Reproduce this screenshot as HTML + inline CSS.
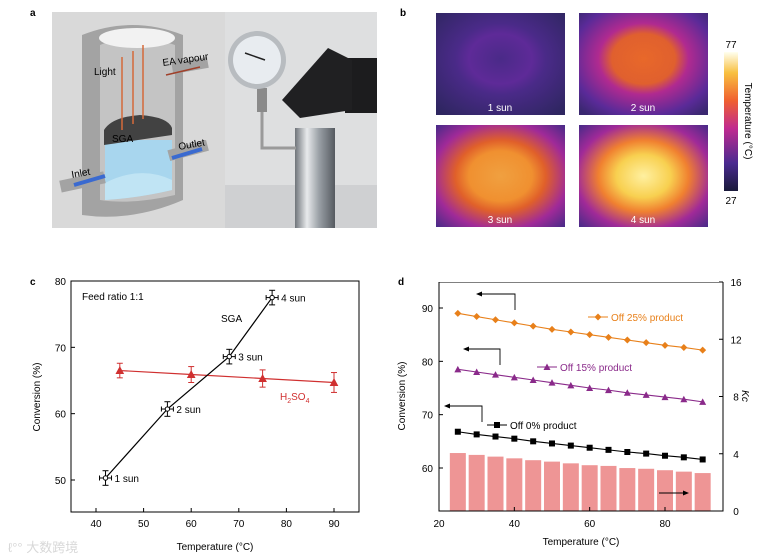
<!DOCTYPE html>
<html><head><meta charset="utf-8"><style>
html,body{margin:0;padding:0;background:#fff;}
svg{display:block;font-family:"Liberation Sans",Arial,sans-serif;}
</style></head><body>
<svg id="fig" width="769" height="556" viewBox="0 0 769 556">
<defs>
<linearGradient id="metal" x1="0" x2="1"><stop offset="0" stop-color="#6f747a"/><stop offset="0.3" stop-color="#e8eaec"/><stop offset="0.6" stop-color="#9aa0a6"/><stop offset="1" stop-color="#555a60"/></linearGradient>
<linearGradient id="cbar" x1="0" y1="1" x2="0" y2="0"><stop offset="0" stop-color="#1a1a3a"/><stop offset="0.2" stop-color="#4a2a90"/><stop offset="0.45" stop-color="#c02a90"/><stop offset="0.65" stop-color="#f06030"/><stop offset="0.85" stop-color="#f8c040"/><stop offset="1" stop-color="#fffff0"/></linearGradient>
<radialGradient id="t1" cx="0.5" cy="0.45" r="0.7"><stop offset="0" stop-color="#4a2a88"/><stop offset="0.35" stop-color="#5e2a98"/><stop offset="0.5" stop-color="#4a2a88"/><stop offset="1" stop-color="#2e2660"/></radialGradient>
<radialGradient id="t2" cx="0.5" cy="0.45" r="0.7"><stop offset="0" stop-color="#e8682a"/><stop offset="0.35" stop-color="#e0602e"/><stop offset="0.5" stop-color="#b02a90"/><stop offset="0.8" stop-color="#5a2a98"/><stop offset="1" stop-color="#3a2870"/></radialGradient>
<radialGradient id="t3" cx="0.5" cy="0.5" r="0.7"><stop offset="0" stop-color="#f0a040"/><stop offset="0.35" stop-color="#f09030"/><stop offset="0.5" stop-color="#e0602a"/><stop offset="0.75" stop-color="#a02a98"/><stop offset="1" stop-color="#4a2a88"/></radialGradient>
<radialGradient id="t4" cx="0.5" cy="0.5" r="0.7"><stop offset="0" stop-color="#fff0a0"/><stop offset="0.3" stop-color="#f8d050"/><stop offset="0.5" stop-color="#f08030"/><stop offset="0.75" stop-color="#a02a98"/><stop offset="1" stop-color="#4a2a88"/></radialGradient>
</defs>

<!-- Panel a -->
<text x="30" y="16" font-size="10" font-weight="bold">a</text>
<g>
<rect x="52" y="12" width="173" height="216" fill="#d9d9d9"/>
<path d="M82,35 Q132,15 183,35 L183,200 Q132,222 82,215 Z" fill="#a3a3a3"/>
<path d="M100,45 Q132,30 175,45 L175,195 Q132,205 100,200 Z" fill="#c4c4c4"/>
<ellipse cx="137" cy="38" rx="38" ry="10" fill="#f2f2f2"/>
<path d="M105,140 L172,140 L172,190 Q138,198 105,200 Z" fill="#a8d6ee"/>
<path d="M105,183 Q140,165 172,180 L172,190 Q138,198 105,200 Z" fill="#c0e4f4"/>
<path d="M104,130 Q112,117 140,115 Q168,117 172,128 L172,135 Q138,140 104,145 Z" fill="#424242"/>
<line x1="122" y1="57" x2="122" y2="130" stroke="#d46a3a" stroke-width="1.5"/>
<line x1="133" y1="51" x2="133" y2="124" stroke="#d46a3a" stroke-width="1.5"/>
<line x1="143" y1="45" x2="143" y2="119" stroke="#d46a3a" stroke-width="1.5"/>
<rect x="60" y="176" width="45" height="12" fill="#a3a3a3" transform="rotate(-12 82 182)"/>
<line x1="74" y1="185" x2="105" y2="176" stroke="#3a6ad0" stroke-width="4"/>
<rect x="168" y="145" width="40" height="11" fill="#a3a3a3" transform="rotate(-15 188 150)"/>
<line x1="172" y1="158" x2="202" y2="149" stroke="#3a6ad0" stroke-width="4"/>
<rect x="172" y="60" width="36" height="11" fill="#a3a3a3" transform="rotate(-10 190 65)"/>
<line x1="166" y1="75" x2="200" y2="67" stroke="#a0402a" stroke-width="1.5"/>
<text x="94" y="75" font-size="10">Light</text>
<text x="163" y="66" font-size="10" transform="rotate(-8 163 66)">EA vapour</text>
<text x="112" y="142" font-size="10">SGA</text>
<text x="179" y="150" font-size="10" transform="rotate(-10 179 150)">Outlet</text>
<text x="72" y="178" font-size="10" transform="rotate(-10 72 178)">Inlet</text>
</g>
<g>
<rect x="225" y="12" width="152" height="216" fill="#dedfe0"/>
<rect x="225" y="185" width="152" height="43" fill="#cfd0d2"/>
<rect x="345" y="58" width="32" height="55" fill="#1c1c1e"/>
<polygon points="282,100 328,48 352,60 352,110 300,118" fill="#202022"/>
<rect x="295" y="128" width="40" height="100" fill="url(#metal)"/>
<path d="M262,88 L262,148 L296,148" stroke="#9a9a9a" stroke-width="3" fill="none"/>
<rect x="257" y="88" width="10" height="24" fill="#8a8a8a"/>
<circle cx="257" cy="60" r="29" fill="#b8bcc0"/>
<circle cx="257" cy="60" r="24" fill="#e8ecf0"/>
<line x1="245" y1="53" x2="265" y2="60" stroke="#222" stroke-width="1.5"/>
</g>

<!-- Panel b -->
<text x="400" y="16" font-size="10" font-weight="bold">b</text>
<g><rect x="436" y="13" width="129" height="102" fill="url(#t1)"/><text x="500" y="111" font-size="10" fill="#fff" text-anchor="middle">1 sun</text></g>
<g><rect x="579" y="13" width="129" height="102" fill="url(#t2)"/><text x="643" y="111" font-size="10" fill="#fff" text-anchor="middle">2 sun</text></g>
<g><rect x="436" y="125" width="129" height="102" fill="url(#t3)"/><text x="500" y="223" font-size="10" fill="#fff" text-anchor="middle">3 sun</text></g>
<g><rect x="579" y="125" width="129" height="102" fill="url(#t4)"/><text x="643" y="223" font-size="10" fill="#fff" text-anchor="middle">4 sun</text></g>
<rect x="724" y="52" width="14" height="139" fill="url(#cbar)"/>
<text x="731" y="48" font-size="10" text-anchor="middle">77</text>
<text x="731" y="204" font-size="10" text-anchor="middle">27</text>
<text x="0" y="0" font-size="10" transform="translate(745,121) rotate(90)" text-anchor="middle">Temperature (°C)</text>

<!-- Panel c -->
<text x="30" y="285" font-size="10" font-weight="bold">c</text>
<g id="pc"></g>
<!-- Panel d -->
<text x="398" y="285" font-size="10" font-weight="bold">d</text>
<g id="pd"></g>
<text x="8" y="552" font-size="13" fill="#d8d8d8">ℓ°° 大数跨境</text>
</svg>
<script>
// Panel c data
const cTicksX = [40,50,60,70,80,90];
const cTicksY = [50,60,70,80];
const sgaT = [42,55,68,77];
const sgaConv = [50.3,60.7,68.6,77.5];
const sgaLabels = ["1 sun","2 sun","3 sun","4 sun"];
const acidT = [45,60,75,90];
const acidConv = [66.5,65.9,65.3,64.7];
const acidErr = [1.1,1.2,1.3,1.5];
// Panel d data
const dTemps = [25,30,35,40,45,50,55,60,65,70,75,80,85,90];
const dTicksX = [20,40,60,80];
const dTicksY = [60,70,80,90];
const dTicksY2 = [0,4,8,12,16];
const off25 = [89,88.4,87.8,87.2,86.6,86,85.5,85,84.5,84,83.5,83,82.6,82.1];
const off15 = [78.5,78,77.5,77,76.5,76,75.5,75,74.6,74.1,73.7,73.3,72.9,72.4];
const off0 = [66.8,66.3,65.9,65.5,65,64.6,64.2,63.8,63.4,63,62.7,62.3,62,61.6];
const kc = [4.05,3.92,3.8,3.68,3.55,3.45,3.33,3.2,3.15,3.0,2.95,2.85,2.75,2.65];

const NS="http://www.w3.org/2000/svg";
function mk(p,tag,attrs,txt){const e=document.createElementNS(NS,tag);for(const k in attrs)e.setAttribute(k,attrs[k]);if(txt!==undefined)e.textContent=txt;p.appendChild(e);return e;}

// ---- panel c
const pc=document.getElementById('pc');
const cx0=71,cx1=359,cy0=281,cy1=512;
const cX=v=>96+(v-40)*(334-96)/50;
const cY=v=>480-(v-50)*(480-281)/30;
let e;
e=mk(pc,'rect',{x:cx0,y:cy0,width:cx1-cx0,height:cy1-cy0,fill:'none',stroke:'#000','stroke-width':1});


cTicksX.forEach(t=>{mk(pc,'line',{x1:cX(t),x2:cX(t),y1:cy1,y2:cy1-4,stroke:'#000'});
 e=mk(pc,'text',{x:cX(t),y:cy1+15,'font-size':10,'text-anchor':'middle'},t);
 
 });
cTicksY.forEach(t=>{mk(pc,'line',{x1:cx0,x2:cx0+4,y1:cY(t),y2:cY(t),stroke:'#000'});
 e=mk(pc,'text',{x:cx0-5,y:cY(t)+4,'font-size':10,'text-anchor':'end'},t);
 
 });
e=mk(pc,'text',{x:215,y:550,'font-size':10,'text-anchor':'middle'},'Temperature (°C)');


e=mk(pc,'text',{x:0,y:0,'font-size':10,'text-anchor':'middle',transform:'translate(40,397) rotate(-90)'},'Conversion (%)');


e=mk(pc,'text',{x:82,y:300,'font-size':10},'Feed ratio 1:1');


e=mk(pc,'text',{x:221,y:322,'font-size':10},'SGA');


e=mk(pc,'text',{x:280,y:400,'font-size':10,fill:'#d03030'});
e.innerHTML='H<tspan font-size="7" dy="3">2</tspan><tspan dy="-3">SO</tspan><tspan font-size="7" dy="3">4</tspan>';


e=mk(pc,'polyline',{points:acidT.map((t,i)=>cX(t)+','+cY(acidConv[i])).join(' '),fill:'none',stroke:'#d03030','stroke-width':1.2});


acidT.forEach((t,i)=>{const x=cX(t),y=cY(acidConv[i]),ya=cY(acidConv[i]+acidErr[i]),yb=cY(acidConv[i]-acidErr[i]);
 const g=mk(pc,'g',{stroke:'#d03030',fill:'#d03030'});
 
 
 mk(g,'line',{x1:x,x2:x,y1:ya,y2:yb});mk(g,'line',{x1:x-3,x2:x+3,y1:ya,y2:ya});mk(g,'line',{x1:x-3,x2:x+3,y1:yb,y2:yb});
 mk(g,'polygon',{points:`${x},${y-3.5} ${x-3.5},${y+3} ${x+3.5},${y+3}`});});
e=mk(pc,'polyline',{points:sgaT.map((t,i)=>cX(t)+','+cY(sgaConv[i])).join(' '),fill:'none',stroke:'#000','stroke-width':1.2});


sgaT.forEach((t,i)=>{const x=cX(t),y=cY(sgaConv[i]),ya=cY(sgaConv[i]+1.1),yb=cY(sgaConv[i]-1.1);
 const g=mk(pc,'g',{stroke:'#000',fill:'#fff'});
 
 
 mk(g,'line',{x1:x,x2:x,y1:ya,y2:yb});mk(g,'line',{x1:x-3,x2:x+3,y1:ya,y2:ya});mk(g,'line',{x1:x-3,x2:x+3,y1:yb,y2:yb});
 mk(g,'line',{x1:x-6,x2:x+6,y1:y,y2:y});mk(g,'line',{x1:x-6,x2:x-6,y1:y-2.5,y2:y+2.5});mk(g,'line',{x1:x+6,x2:x+6,y1:y-2.5,y2:y+2.5});
 mk(g,'circle',{cx:x,cy:y,r:2.2});
 const l=mk(pc,'text',{x:x+9,y:y+4,'font-size':10},sgaLabels[i]);
 
 });

// ---- panel d
const pd=document.getElementById('pd');
const dx0=439,dx1=723,dy0=282,dy1=511;
const dX=v=>439+(v-20)*(665-439)/60;
const dY=v=>468-(v-60)*(468-308)/30;
const dY2=v=>511-v*(511-282)/16;
const bw=16;
kc.forEach((k,i)=>{e=mk(pd,'rect',{x:dX(dTemps[i])-bw/2,y:dY2(k),width:bw,height:dy1-dY2(k),fill:'#ee9595'});
 
 });
e=mk(pd,'rect',{x:dx0,y:dy0,width:dx1-dx0,height:dy1-dy0,fill:'none',stroke:'#000'});


mk(pd,'rect',{x:dx0-1,y:dy0-2,width:dx1-dx0+2,height:2,fill:'#fff'});
dTicksX.forEach(t=>{mk(pd,'line',{x1:dX(t),x2:dX(t),y1:dy1,y2:dy1-4,stroke:'#000'});
 e=mk(pd,'text',{x:dX(t),y:dy1+16,'font-size':10,'text-anchor':'middle'},t);
 
 });
dTicksY.forEach(t=>{mk(pd,'line',{x1:dx0,x2:dx0+4,y1:dY(t),y2:dY(t),stroke:'#000'});
 e=mk(pd,'text',{x:dx0-6,y:dY(t)+4,'font-size':10,'text-anchor':'end'},t);
 
 });
dTicksY2.forEach(t=>{mk(pd,'line',{x1:dx1,x2:dx1-4,y1:dY2(t),y2:dY2(t),stroke:'#000'});
 e=mk(pd,'text',{x:dx1+13,y:dY2(t)+4,'font-size':10,'text-anchor':'middle'},t);
 
 });
e=mk(pd,'text',{x:581,y:545,'font-size':10,'text-anchor':'middle'},'Temperature (°C)');


e=mk(pd,'text',{x:0,y:0,'font-size':10,'text-anchor':'middle',transform:'translate(405,396) rotate(-90)'},'Conversion (%)');


e=mk(pd,'text',{x:0,y:0,'font-size':10,'font-style':'italic','text-anchor':'middle',transform:'translate(742,396) rotate(90)'},'Kc');


function series(vals,color,shape,name){
 e=mk(pd,'polyline',{points:dTemps.map((t,i)=>dX(t)+','+dY(vals[i])).join(' '),fill:'none',stroke:color,'stroke-width':1.1});
 
 
 dTemps.forEach((t,i)=>{const x=dX(t),y=dY(vals[i]);let m;
  if(shape==='d')m=mk(pd,'polygon',{points:`${x},${y-3.5} ${x+3.5},${y} ${x},${y+3.5} ${x-3.5},${y}`,fill:color});
  else if(shape==='t')m=mk(pd,'polygon',{points:`${x},${y-3.5} ${x-3.5},${y+3} ${x+3.5},${y+3}`,fill:color});
  else m=mk(pd,'rect',{x:x-3,y:y-3,width:6,height:6,fill:color});
  
  });
}
series(off25,'#e8801a','d','off-25');
series(off15,'#8a2a8a','t','off-15');
series(off0,'#000','s','off-0');
function legend(x,y,color,shape,label,name){
 const g=mk(pd,'g',{});
 
 
 mk(g,'line',{x1:x,x2:x+20,y1:y,y2:y,stroke:color,'stroke-width':1.1});
 const c=x+10;
 if(shape==='d')mk(g,'polygon',{points:`${c},${y-3.5} ${c+3.5},${y} ${c},${y+3.5} ${c-3.5},${y}`,fill:color});
 else if(shape==='t')mk(g,'polygon',{points:`${c},${y-3.5} ${c-3.5},${y+3} ${c+3.5},${y+3}`,fill:color});
 else mk(g,'rect',{x:c-3,y:y-3,width:6,height:6,fill:color});
 mk(g,'text',{x:x+23,y:y+4,'font-size':10,fill:color},label);
}
legend(588,317,'#e8801a','d','Off 25% product','off-25');
legend(537,367,'#8a2a8a','t','Off 15% product','off-15');
legend(487,425,'#000','s','Off 0% product','off-0');
function arrowL(x1,x2,yTop,yBot){
 mk(pd,'polyline',{points:`${x2},${yBot} ${x2},${yTop} ${x1},${yTop}`,fill:'none',stroke:'#000','stroke-width':0.9});
 mk(pd,'polygon',{points:`${x1-3},${yTop} ${x1+3},${yTop-2.5} ${x1+3},${yTop+2.5}`,fill:'#000'});
}
arrowL(479,515,294,310);
arrowL(466,500,349,365);
arrowL(447,482,406,422);
mk(pd,'line',{x1:659,x2:685,y1:493,y2:493,stroke:'#000','stroke-width':0.9});
mk(pd,'polygon',{points:`${689},493 ${683},490.5 ${683},495.5`,fill:'#000'});
</script>
</body></html>
